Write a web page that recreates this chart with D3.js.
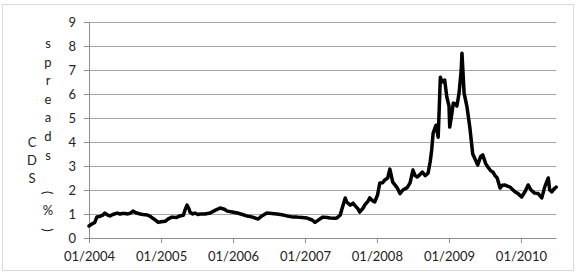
<!DOCTYPE html>
<html>
<head>
<meta charset="utf-8">
<script src="https://cdn.jsdelivr.net/npm/d3@7"></script>
<style>
  body { margin: 0; background: #fff; }
  text { font-family: Lato, "Open Sans", sans-serif; fill: #222; }
</style>
</head>
<body>
<script>
// chart size
var W = 579, H = 272;
var margin = {top: 22, right: 23, bottom: 34, left: 89};
var width = W - margin.left - margin.right,
	height = H - margin.top - margin.bottom;

// years as decimal numbers
var years = [2004.00, 2004.04, 2004.08, 2004.11, 2004.15, 2004.19, 2004.22, 2004.26, 2004.29, 2004.33,
	2004.39, 2004.43, 2004.46, 2004.50, 2004.54, 2004.58, 2004.61, 2004.65, 2004.71, 2004.75,
	2004.81, 2004.85, 2004.88, 2004.92, 2004.96, 2005.00, 2005.06, 2005.10, 2005.15, 2005.21,
	2005.26, 2005.31, 2005.33, 2005.36, 2005.39, 2005.40, 2005.44, 2005.47, 2005.51, 2005.54,
	2005.61, 2005.68, 2005.75, 2005.82, 2005.88, 2005.92, 2005.99, 2006.06, 2006.13, 2006.19,
	2006.26, 2006.35, 2006.40, 2006.47, 2006.54, 2006.61, 2006.68, 2006.75, 2006.82, 2006.89,
	2006.96, 2007.03, 2007.10, 2007.14, 2007.21, 2007.25, 2007.31, 2007.35, 2007.42, 2007.44,
	2007.49, 2007.51, 2007.56, 2007.58, 2007.63, 2007.67, 2007.69, 2007.74, 2007.76, 2007.81,
	2007.83, 2007.88, 2007.90, 2007.94, 2007.97, 2008.01, 2008.04, 2008.08, 2008.11, 2008.15,
	2008.18, 2008.22, 2008.28, 2008.32, 2008.36, 2008.42, 2008.46, 2008.50, 2008.53, 2008.56,
	2008.60, 2008.63, 2008.67, 2008.71, 2008.74, 2008.76, 2008.78, 2008.82, 2008.85, 2008.88,
	2008.90, 2008.94, 2008.97, 2009.00, 2009.01, 2009.04, 2009.06, 2009.08, 2009.11, 2009.14,
	2009.17, 2009.18, 2009.21, 2009.25, 2009.29, 2009.33, 2009.36, 2009.40, 2009.44, 2009.47,
	2009.51, 2009.54, 2009.58, 2009.61, 2009.64, 2009.67, 2009.71, 2009.74, 2009.78, 2009.82,
	2009.85, 2009.89, 2009.92, 2009.96, 2010.01, 2010.06, 2010.10, 2010.14, 2010.19, 2010.24,
	2010.29, 2010.33, 2010.38, 2010.40, 2010.43, 2010.46, 2010.49];

// CDS spreads in %
var spreads = [0.50, 0.58, 0.65, 0.88, 0.90, 0.95, 1.04, 0.95, 0.92, 0.98,
	1.04, 1.00, 1.02, 1.02, 1.00, 1.05, 1.12, 1.05, 1.00, 0.98,
	0.96, 0.90, 0.83, 0.75, 0.65, 0.68, 0.70, 0.80, 0.87, 0.85,
	0.92, 0.95, 1.15, 1.37, 1.20, 1.08, 1.00, 1.04, 0.98, 1.00,
	1.00, 1.04, 1.15, 1.25, 1.20, 1.12, 1.08, 1.04, 0.98, 0.92,
	0.88, 0.79, 0.92, 1.04, 1.02, 1.00, 0.97, 0.92, 0.88, 0.87,
	0.85, 0.83, 0.75, 0.65, 0.80, 0.87, 0.85, 0.83, 0.82, 0.83,
	0.95, 1.17, 1.67, 1.50, 1.37, 1.45, 1.37, 1.20, 1.08, 1.25,
	1.37, 1.55, 1.67, 1.55, 1.50, 1.80, 2.29, 2.30, 2.42, 2.50,
	2.87, 2.33, 2.10, 1.85, 2.00, 2.10, 2.30, 2.83, 2.60, 2.54,
	2.65, 2.75, 2.60, 2.70, 3.20, 3.67, 4.37, 4.70, 4.20, 6.70,
	6.50, 6.58, 5.87, 5.50, 4.62, 5.20, 5.62, 5.60, 5.50, 6.04,
	7.00, 7.70, 6.04, 5.46, 4.60, 3.50, 3.30, 3.04, 3.40, 3.46,
	3.10, 2.96, 2.80, 2.75, 2.60, 2.50, 2.08, 2.20, 2.21, 2.15,
	2.12, 2.00, 1.92, 1.85, 1.71, 1.95, 2.21, 2.00, 1.87, 1.85,
	1.67, 2.12, 2.50, 2.00, 1.92, 2.05, 2.12];

var yTicks = [0, 1, 2, 3, 4, 5, 6, 7, 8, 9];
var xTickYears = [2004, 2005, 2006, 2007, 2008, 2009, 2010];

// axis title, stacked like the original (two columns)
var titleCol1 = ["C", "D", "S"];
var titleCol2 = ["s", "p", "r", "e", "a", "d", "s", " ", "(", "%", ")"];

function yearToDate(y) {
	var yr = Math.floor(y);
	var start = new Date(yr, 0, 1), end = new Date(yr + 1, 0, 1);
	return new Date(start.getTime() + (y - yr) * (end - start));
}

var data = years.map(function(y, i) {
	return {date: yearToDate(y), value: spreads[i]};
});

var svg = d3.select("body").append("svg")
	.attr("width", W)
	.attr("height", H);

// outer chart border
svg.append("rect")
	.attr("x", 2.5).attr("y", 4.5)
	.attr("width", 571).attr("height", 266)
	.attr("fill", "none")
	.attr("stroke", "#d9d9d9");

var g = svg.append("g")
	.attr("transform", "translate(" + margin.left + "," + margin.top + ")");

var x = d3.scaleTime()
	.domain([new Date(2004, 0, 1), new Date(2010, 5, 28)])
	.range([0, width]);

var y = d3.scaleLinear()
	.domain([0, 9])
	.range([height, 0]);

// gridlines
g.selectAll(".grid")
	.data(yTicks.slice(1))
	.enter()
	.append("line")
	.attr("x1", 0)
	.attr("x2", width)
	.attr("y1", function(d) { return Math.round(y(d)) + 0.5; })
	.attr("y2", function(d) { return Math.round(y(d)) + 0.5; })
	.attr("stroke", "#a6a6a6")
	.attr("stroke-width", 1);

var xAxis = d3.axisBottom(x)
	.tickValues(xTickYears.map(function(v) { return new Date(v, 0, 1); }))
	.tickFormat(d3.timeFormat("%m/%Y"))
	.tickSize(5)
	.tickSizeOuter(0)
	.tickPadding(9);

var yAxis = d3.axisLeft(y)
	.tickValues(yTicks)
	.tickSize(5)
	.tickSizeOuter(0)
	.tickPadding(8);

var gx = g.append("g")
	.attr("class", "axis x-axis")
	.attr("transform", "translate(0," + height + ")")
	.call(xAxis);

var gy = g.append("g")
	.attr("class", "axis y-axis")
	.call(yAxis);

[gx, gy].forEach(function(a) {
	a.selectAll("path, line").attr("stroke", "#8c8c8c");
	a.selectAll("text")
		.attr("fill", "#222")
		.style("font-family", "Lato, 'Open Sans', sans-serif")
		.style("font-size", "13px");
});

// the line
var line = d3.line()
	.x(function(d) { return x(d.date); })
	.y(function(d) { return y(d.value); });

g.append("path")
	.datum(data)
	.attr("d", line)
	.attr("fill", "none")
	.attr("stroke", "#000")
	.attr("stroke-width", 3.5)
	.attr("stroke-linejoin", "round")
	.attr("stroke-linecap", "round");

// y axis title
svg.selectAll(".t1")
	.data(titleCol1)
	.enter()
	.append("text")
	.attr("x", 32)
	.attr("y", function(d, i) { return 147 + i * 18; })
	.attr("text-anchor", "middle")
	.style("font-size", "13px")
	.text(function(d) { return d; });

svg.selectAll(".t2")
	.data(titleCol2)
	.enter()
	.append("text")
	.attr("transform", function(d, i) {
		var ty = 48 + i * 18.6;
		if (d === "(" || d === ")") return "translate(48," + (ty - 4) + ") rotate(90)";
		return "translate(48," + ty + ")";
	})
	.attr("text-anchor", "middle")
	.attr("dy", function(d) { return (d === "(" || d === ")") ? "0.35em" : 0; })
	.style("font-size", "13px")
	.text(function(d) { return d; });
</script>
</body>
</html>
